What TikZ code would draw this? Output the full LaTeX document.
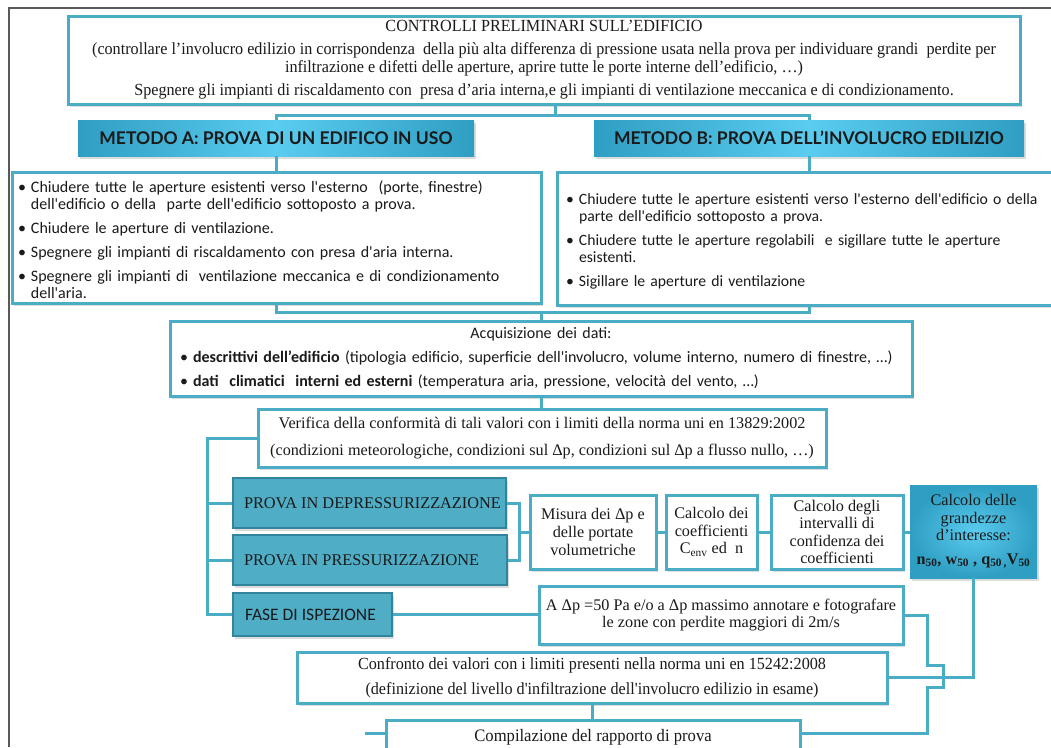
\documentclass[tikz,border=0pt]{standalone}
\usepackage{fontspec}
\setmainfont{Liberation Serif}
\newfontfamily\calfont{Carlito}
\newfontfamily\condserif[FakeStretch=0.95]{Liberation Serif}
\newfontfamily\headfont{Lato}
\usetikzlibrary{shadows,calc}
\definecolor{tealb}{HTML}{4BACC6}
\definecolor{tealdk}{HTML}{31849B}
\definecolor{tealf}{HTML}{4FADC6}
\definecolor{hdA}{HTML}{2E9EC2}
\definecolor{hdB}{HTML}{5ACCF0}
\definecolor{txt}{HTML}{1A1A1A}
\newcommand\bitem[1]{\par\hangindent=13pt\hangafter=1\noindent\makebox[13pt][l]{\textbullet}#1}
\begin{document}
\begin{tikzpicture}[x=1pt,y=-1pt,
  shad/.style={drop shadow={shadow xshift=1.5pt,shadow yshift=-2.5pt,opacity=.28}},
  box/.style={draw=tealb, line width=3pt, fill=white, inner sep=0pt, text=txt, shad},
  head/.style={inner sep=0pt, left color=hdA, right color=hdA, middle color=hdB,
    font=\headfont\bfseries\fontsize{17.5}{20}\selectfont, text=txt, shad},
  fbox/.style={draw=tealdk, line width=2pt, fill=tealf, inner sep=0pt, text=txt, shad},
  conn/.style={draw=tealb, line width=3pt},
  tms/.style={font=\fontsize{16.2}{17.6}\selectfont, align=center},
  cal/.style={font=\calfont\fontsize{16}{17}\selectfont, align=left}]
\useasboundingbox (0,0) rectangle (1051,747);
\draw[black!65, line width=1.2pt] (9,747) -- (9,8) -- (1051,8);

\node[box, minimum width=952pt, minimum height=88pt, align=center,
  font=\condserif\fontsize{17}{18}\selectfont] (b1) at (544,60)
  {CONTROLLI PRELIMINARI SULL’EDIFICIO\\[5pt]
   (controllare l’involucro edilizio in corrispondenza \ della più alta differenza di pressione usata nella prova per individuare grandi \ perdite per\\
   infiltrazione e difetti delle aperture, aprire tutte le porte interne dell’edificio, …)\\[5pt]
   Spegnere gli impianti di riscaldamento con \ presa d’aria interna,e gli impianti di ventilazione meccanica e di condizionamento.};

\node[head, minimum width=396pt, minimum height=36pt] (mA) at (276,138) {METODO A: PROVA DI UN EDIFICO IN USO};
\node[head, minimum width=430pt, minimum height=36pt] (mB) at (809,138) {METODO B: PROVA DELL’INVOLUCRO EDILIZIO};

\node[box, cal, minimum width=529pt, minimum height=131pt, text width=517pt] (lA) at (276.5,237.5)
  {\bitem{Chiudere tutte le aperture esistenti verso l'esterno \ (porte, finestre)\newline dell'edificio o della \ parte dell'edificio sottoposto a prova.}\par\vspace{7pt}
   \bitem{Chiudere le aperture di ventilazione.}\par\vspace{7pt}
   \bitem{Spegnere gli impianti di riscaldamento con presa d'aria interna.}\par\vspace{7pt}
   \bitem{Spegnere gli impianti di \ ventilazione meccanica e di condizionamento\newline dell'aria.}\par};

\node[box, cal, font=\calfont\fontsize{15.7}{17}\selectfont, minimum width=508pt, minimum height=133pt, text width=490pt] (lB) at (811,238.5)
  {\bitem{Chiudere tutte le aperture esistenti verso l'esterno dell'edificio o della\newline parte dell'edificio sottoposto a prova.}\par\vspace{7pt}
   \bitem{Chiudere tutte le aperture regolabili \ e sigillare tutte le aperture\newline esistenti.}\par\vspace{7pt}
   \bitem{Sigillare le aperture di ventilazione}\par};

\node[box, cal, minimum width=742pt, minimum height=75pt, text width=722pt] (acq) at (541,358.5)
  {\makebox[\linewidth][c]{Acquisizione dei dati:}\par\vspace{7pt}
   \bitem{\textbf{descrittivi dell’edificio} (tipologia edificio, superficie dell'involucro, volume interno, numero di finestre, …)}\par\vspace{7pt}
   \bitem{\textbf{dati \ climatici \ interni ed esterni} (temperatura aria, pressione, velocità del vento, …)}\par};

\node[box, tms, minimum width=568pt, minimum height=58pt] (ver) at (542,438)
  {Verifica della conformità di tali valori con i limiti della norma uni en 13829:2002\\[9pt]
   (condizioni meteorologiche, condizioni sul Δp, condizioni sul Δp a flusso nullo, …)};

\node[fbox, minimum width=273pt, minimum height=50pt,
  font=\fontsize{16.3}{18}\selectfont] (depr) at (369.5,503) {\makebox[251pt][l]{PROVA IN DEPRESSURIZZAZIONE}};
\node[fbox, minimum width=274pt, minimum height=50pt,
  font=\fontsize{16.3}{18}\selectfont] (press) at (370,560) {\makebox[252pt][l]{PROVA IN PRESSURIZZAZIONE}};
\node[fbox, minimum width=159pt, minimum height=43pt,
  font=\calfont\fontsize{17.5}{18}\selectfont] (fase) at (312.5,614.5) {\makebox[135pt][l]{FASE DI ISPEZIONE}};

\node[box, tms, minimum width=126pt, minimum height=74pt] (mis) at (593,532)
  {Misura dei Δp e\\ delle portate\\ volumetriche};
\node[box, tms, minimum width=91pt, minimum height=74pt] (coef) at (711.5,532)
  {Calcolo dei\\ coefficienti\\ C\textsubscript{env} ed \ n};
\node[box, tms, minimum width=132pt, minimum height=74pt] (int) at (837,532)
  {Calcolo degli\\ intervalli di\\ confidenza dei\\ coefficienti};
\node[inner sep=0pt, inner color=hdB, outer color=hdA, shad, tms, text=txt,
  minimum width=127pt, minimum height=93pt] (grand) at (973.5,531.5)
  {Calcolo delle\\ grandezze\\ d'interesse:\\[6pt]
   \textbf{n\textsubscript{50}, w\textsubscript{50} , q\textsubscript{50\,,}V\textsubscript{50}}};

\node[box, tms, minimum width=364pt, minimum height=58pt] (adp) at (721,615)
  {A Δp =50 Pa e/o a Δp massimo annotare e fotografare\\ le zone con perdite maggiori di 2m/s};

\node[box, align=center, minimum width=590pt, minimum height=51pt,
  font=\condserif\fontsize{17}{18}\selectfont] (conf) at (592,677.5)
  {Confronto dei valori con i limiti presenti nella norma uni en 15242:2008\\[7pt]
   (definizione del livello d'infiltrazione dell'involucro edilizio in esame)};

\node[box, minimum width=414pt, minimum height=40pt,
  font=\condserif\fontsize{17.5}{18}\selectfont] (comp) at (593,740)
  {\raisebox{9pt}{Compilazione del rapporto di prova}};

% connectors
\coordinate (j1) at (555,115);
\draw[conn] (b1.south -| j1) -- (j1);
\draw[conn] (mA.north) |- (j1) -| (mB.north);
\draw[conn] (mA.south) -- (mA.south |- lA.north);
\draw[conn] (mB.south) -- (mB.south |- lB.north);
\coordinate (j2) at (541,312);
\draw[conn] (lA.south) |- (j2) -| (mB.south |- lB.south);
\draw[conn] (j2) -- (acq.north);
\draw[conn] (acq.south) -- (acq.south |- ver.north);
\coordinate (xl) at (207,0);
\draw[conn] (ver.west) -- (ver.west -| xl) |- (fase.west);
\draw[conn] (xl |- depr.west) -- (depr.west);
\draw[conn] (xl |- press.west) -- (press.west);
\coordinate (xm) at (519,0);
\draw[conn] (depr.east) -- (depr.east -| xm) |- (press.east);
\draw[conn] (xm |- mis.west) -- (mis.west);
\draw[conn] (mis.east) -- (coef.west);
\draw[conn] (coef.east) -- (int.west);
\draw[conn] (int.east) -- (grand.west |- int.east);
\draw[conn] (fase.east) -- (fase.east -| adp.west);
\draw[conn] (grand.south) |- (conf.east);
\coordinate (r1) at (927,665);
\coordinate (r2) at (943,665);
\coordinate (r3) at (943,687);
\coordinate (r4) at (927,687);
\coordinate (ce) at ($(comp.east)+(0,-7)$);
\draw[conn] (adp.east) -| (r1) -- (r2) -- (r3) -- (r4) |- (ce);
\draw[conn] (conf.south) -- (conf.south |- comp.north);
\coordinate (cl) at (365,733);
\draw[conn] (cl) -- (cl -| comp.west);
\end{tikzpicture}
\end{document}
